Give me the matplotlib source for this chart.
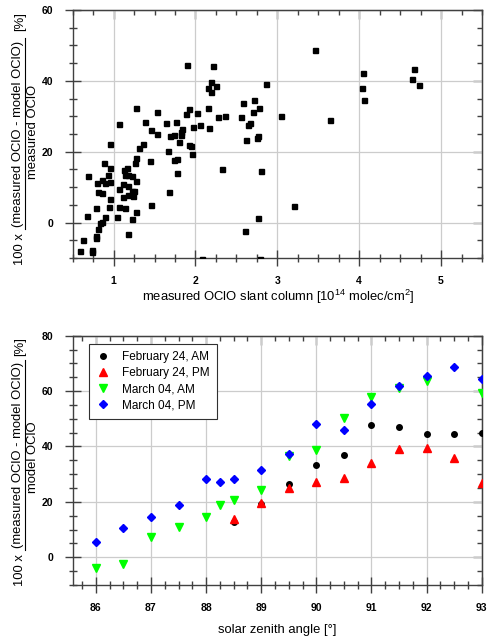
import matplotlib
matplotlib.use("Agg")
import matplotlib.pyplot as plt
from matplotlib.lines import Line2D
from matplotlib.ticker import MultipleLocator
import numpy as np

plt.rcParams['font.family'] = ['Liberation Sans', 'DejaVu Sans']
plt.rcParams['mathtext.fontset'] = 'custom'
plt.rcParams['mathtext.rm'] = 'Liberation Sans'

# ---------------- top panel data ----------------
slant_column = [
    0.59, 0.63, 0.73, 0.74, 0.67, 0.69,
    0.78, 0.79, 0.79, 0.81, 0.83, 0.86, 0.80, 0.81, 0.86, 0.855, 0.88, 0.90, 0.90,
    0.93, 0.94, 0.95, 0.95, 0.955, 0.96,
    1.04, 1.06, 1.065, 1.07, 1.11, 1.11, 1.125, 1.14, 1.145, 1.16, 1.17, 1.17, 1.17,
    1.17, 1.22, 1.22, 1.25, 1.235, 1.22, 1.26, 1.275, 1.275, 1.275, 1.27, 1.31, 1.36, 1.38,
    1.46, 1.45, 1.46, 1.53, 1.53, 1.64, 1.66, 1.68, 1.69, 1.74, 1.76, 1.74, 1.78, 1.775,
    1.80, 1.82, 1.82, 1.84, 1.88, 1.90, 1.92, 1.92, 1.94, 1.96, 1.97,
    2.02, 2.05, 2.08, 2.15, 2.15, 2.16, 2.19, 2.19, 2.22, 2.25, 2.28, 2.32, 2.36,
    2.56, 2.58, 2.61, 2.62, 2.64, 2.67, 2.70, 2.71, 2.75, 2.76, 2.77, 2.76, 2.79, 2.80, 2.86,
    3.05, 3.20, 3.46, 3.64, 4.03, 4.05, 4.06, 4.65, 4.67, 4.73,
]
rel_diff_top = [
    -8.0, -4.8, -7.7, -8.3, 1.8, 13.1,
    4.0, -3.9, -4.4, -1.9, 0.0, 0.3, 11.2, 8.5, 8.3, 12.1, 16.7, 11.2, 1.5,
    13.5, 4.5, 15.4, 11.4, 22.1, 6.6,
    1.6, 9.5, 4.5, 27.8, 7.3, 10.8, 14.9, 13.3, 4.2, 15.3, 13.4, 10.3, 7.7,
    -3.3, 13.2, 8.8, 8.8, 7.6, 1.0, 16.9, 18.2, 11.7, 3.0, 32.2, 21.1, 22.1, 28.4,
    26.1, 17.3, 5.0, 31.2, 24.9, 28.2, 20.3, 8.6, 24.4, 24.6, 28.5, 17.8, 18.0, 14.0,
    22.8, 24.8, 25.6, 26.5, 30.7, 44.5, 32.1, 21.8, 21.5, 19.4, 27.1,
    30.9, 27.6, -10.4, 37.9, 32.2, 26.8, 36.8, 39.6, 44.3, 38.5, 29.9, 15.1, 30.0,
    29.8, 33.7, -2.5, 23.2, 27.6, 28.2, 31.1, 34.7, 24.0, 24.3, 32.3, 1.3, -10.4, 14.6, 39.0,
    30.2, 4.8, 48.7, 29.0, 37.9, 42.3, 34.5, 40.6, 43.3, 38.9,
]

# ---------------- bottom panel data ----------------
sza_feb_am = [88.5, 89.0, 89.5, 90.0, 90.5, 91.0, 91.5, 92.0, 92.5, 93.0]
val_feb_am = [12.6, 19.4, 26.3, 33.4, 36.9, 47.8, 47.2, 44.5, 44.6, 44.8]
sza_feb_pm = [88.5, 89.0, 89.5, 90.0, 90.5, 91.0, 91.5, 92.0, 92.5, 93.0]
val_feb_pm = [13.8, 19.6, 24.9, 27.1, 28.6, 33.9, 39.1, 39.6, 35.8, 26.8]
sza_mar_am = [86.0, 86.5, 87.0, 87.5, 88.0, 88.25, 88.5, 89.0, 89.5, 90.0, 90.5, 91.0, 91.5, 92.0, 93.0]
val_mar_am = [-4.0, -2.5, 7.3, 10.8, 14.4, 18.9, 20.6, 24.2, 36.6, 38.6, 50.2, 58.0, 61.2, 63.6, 59.4]
sza_mar_pm = [86.0, 86.5, 87.0, 87.5, 88.0, 88.25, 88.5, 89.0, 89.5, 90.0, 90.5, 91.0, 91.5, 92.0, 92.5, 93.0]
val_mar_pm = [5.4, 10.5, 14.7, 19.0, 28.3, 27.2, 28.2, 31.4, 37.2, 48.2, 45.8, 55.5, 61.7, 65.5, 68.6, 64.4]
series_labels = ["February 24, AM", "February 24, PM", "March 04, AM", "March 04, PM"]

W, H = 487, 643
fig = plt.figure(figsize=(W / 100, H / 100), dpi=100)

def fx(px):
    return px / W

def fy(py):
    return 1 - py / H

SPINE = '#404040'
GRID = '#cccccc'
TFS = 7.5
LFS = 9.4

def style_axes(ax, xmin, ymin, xticks, yticks):
    ax.set_axisbelow(True)
    ax.grid(True, which='major', color=GRID, lw=0.9)
    for s in ax.spines.values():
        s.set_color(SPINE)
        s.set_linewidth(1.0)
    ax.xaxis.set_minor_locator(MultipleLocator(xmin))
    ax.yaxis.set_minor_locator(MultipleLocator(ymin))
    ax.set_xticks(xticks, [str(t) for t in xticks], fontweight='bold', fontsize=TFS)
    ax.set_yticks(yticks, [str(t) for t in yticks], fontweight='bold', fontsize=TFS)
    ax.tick_params(which='major', direction='inout', length=12, width=1.0, color=SPINE, pad=8)
    ax.tick_params(which='minor', direction='inout', length=6, width=1.0, color=SPINE)
    ax.tick_params(axis='x', which='major', pad=7)
    # top and right: inward ticks without labels
    sx = ax.secondary_xaxis('top')
    sx.set_xticks(xticks, [''] * len(xticks))
    sx.xaxis.set_minor_locator(MultipleLocator(xmin))
    sx.tick_params(which='major', direction='in', length=6.5, width=1.0, color=SPINE)
    sx.tick_params(which='minor', direction='in', length=3.5, width=1.0, color=SPINE)
    sx.spines['top'].set_color(SPINE)
    sy = ax.secondary_yaxis('right')
    sy.set_yticks(yticks, [''] * len(yticks))
    sy.yaxis.set_minor_locator(MultipleLocator(ymin))
    sy.tick_params(which='major', direction='in', length=6.5, width=1.0, color=SPINE)
    sy.tick_params(which='minor', direction='in', length=3.5, width=1.0, color=SPINE)
    sy.spines['right'].set_color(SPINE)

# ---------------- top axes ----------------
ax1 = fig.add_axes([fx(72.7), fy(258), fx(482) - fx(72.7), (258 - 10) / H])
ax1.set_xlim(0.5, 5.5)
ax1.set_ylim(-10, 60)
style_axes(ax1, 0.25, 5, [1, 2, 3, 4, 5], [0, 20, 40, 60])
ax1.plot(slant_column, rel_diff_top, linestyle='none', marker='s', ms=3.6,
         color='black', mec='black', zorder=3, clip_on=True)

fig.text(fx(278), fy(297), r"measured OClO slant column [10$^{14}$ molec/cm$^{2}$]",
         ha='center', va='center', fontsize=LFS)

# ---------------- bottom axes ----------------
ax2 = fig.add_axes([fx(72.7), fy(585), fx(481.7) - fx(72.7), (585 - 335.7) / H])
ax2.set_xlim(85.58, 93)
ax2.set_ylim(-10, 80)
style_axes(ax2, 0.25, 5, [86, 87, 88, 89, 90, 91, 92, 93], [0, 20, 40, 60, 80])
ax2.plot(sza_feb_am, val_feb_am, linestyle='none', marker='o', ms=4.0, color='black',
         label=series_labels[0], zorder=3)
ax2.plot(sza_feb_pm, val_feb_pm, linestyle='none', marker='^', ms=5.2, color='#ff0000',
         label=series_labels[1], zorder=3)
ax2.plot(sza_mar_am, val_mar_am, linestyle='none', marker='v', ms=5.2, color='#00ff00',
         label=series_labels[2], zorder=3)
ax2.plot(sza_mar_pm, val_mar_pm, linestyle='none', marker='D', ms=4.3, color='#0000ff',
         label=series_labels[3], zorder=3)
leg = ax2.legend(loc='upper left', bbox_to_anchor=((89 - 72.7) / 409, 1 - (344 - 335.7) / 249.3),
                 borderaxespad=0, frameon=True, fancybox=False, fontsize=8.5,
                 handlelength=1.2, handletextpad=1.0, labelspacing=0.35,
                 borderpad=0.6, framealpha=1)
leg.get_frame().set_edgecolor('#303030')
leg.get_frame().set_linewidth(0.8)

fig.text(fx(277.5), fy(630), "solar zenith angle [°]", ha='center', va='center', fontsize=LFS)

# ---------------- y labels (fraction) ----------------
def ylabel_fraction(denom, top_pct, num_center, num_span, den_center, hundred_y):
    fig.text(fx(20), fy(top_pct), "[%]", rotation=90, ha='center', va='center', fontsize=LFS)
    fig.text(fx(18.5), fy(num_center), "(measured OClO - model OClO)", rotation=90,
             ha='center', va='center', fontsize=LFS)
    fig.add_artist(Line2D([fx(25), fx(25)], [fy(num_span[0]), fy(num_span[1])],
                          transform=fig.transFigure, color='black', lw=0.8))
    fig.text(fx(32.5), fy(den_center), denom, rotation=90, ha='center', va='center', fontsize=LFS)
    fig.text(fx(20), fy(hundred_y), "100 x", rotation=90, ha='center', va='center', fontsize=LFS)

ylabel_fraction("measured OClO", 22, 133.5, (38, 229), 131.5, 249)
ylabel_fraction("model OClO", 347, 455, (360, 550), 457, 570)

fig.savefig("out.png", dpi=100)
